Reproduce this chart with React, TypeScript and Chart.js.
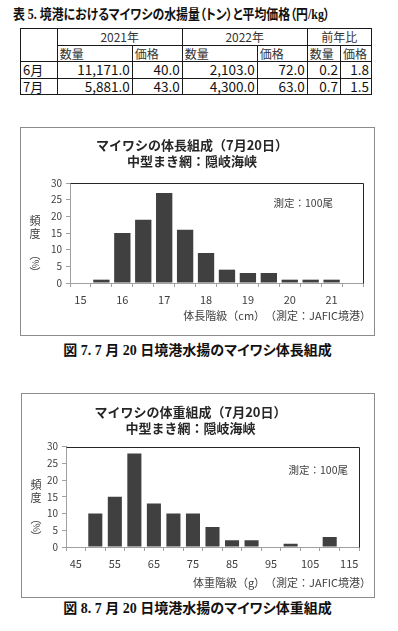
import React, { useEffect, useRef } from 'react';
import { Chart, registerables } from 'chart.js';

Chart.register(...registerables);

// ---------- data ----------
const tableTitle = '表 5. 境港におけるマイワシの水揚量（トン）と平均価格（円/kg）';
const tableYears = ['2021年', '2022年', '前年比'];
const tableSubHeads = ['数量', '価格'];
const tableMonths = ['6月', '7月'];
const qty2021 = [11171.0, 5881.0];
const price2021 = [40.0, 43.0];
const qty2022 = [2103.0, 4300.0];
const price2022 = [72.0, 63.0];
const ratioQty = [0.2, 0.7];
const ratioPrice = [1.8, 1.5];

const lengthClasses = ['15', '15.5', '16', '16.5', '17', '17.5', '18', '18.5', '19', '19.5', '20', '20.5', '21', '21.5'];
const lengthTickLabels = ['15', '', '16', '', '17', '', '18', '', '19', '', '20', '', '21', ''];
const lengthFreq = [0, 1, 15, 19, 27, 16, 9, 4, 3, 3, 1, 1, 1, 0];

const weightClasses = ['45', '50', '55', '60', '65', '70', '75', '80', '85', '90', '95', '100', '105', '110', '115'];
const weightTickLabels = ['45', '', '55', '', '65', '', '75', '', '85', '', '95', '', '105', '', '115'];
const weightFreq = [0, 10, 15, 28, 13, 10, 10, 6, 2, 2, 0, 1, 0, 3, 0];

const yMin = 0;
const yMax = 30;
const yStep = 5;

const lengthTitle = ['マイワシの体長組成（7月20日）', '中型まき網：隠岐海峡'];
const weightTitle = ['マイワシの体重組成（7月20日）', '中型まき網：隠岐海峡'];
const lengthXTitle = '体長階級（cm）　（測定：JAFIC境港）';
const weightXTitle = '体重階級（g）　（測定：JAFIC境港）';
const noteText = '測定：100尾';
const yTitleChars = ['頻', '度', '︵', '%', '︶'];
const caption7 = '図 7. 7 月 20 日境港水揚のマイワシ体長組成';
const caption8 = '図 8. 7 月 20 日境港水揚のマイワシ体重組成';

const CJK = '"Noto Sans CJK JP", "Noto Sans", sans-serif';
const CAPFONT = '"Liberation Serif", "Noto Sans CJK JP", serif';

// ---------- plugin for extra texts ----------
const figTextsPlugin = {
  id: 'figTexts',
  afterDraw(chart: any, _args: any, opts: any) {
    const { ctx, chartArea } = chart;
    const { left, right, top, bottom } = chartArea;
    ctx.save();
    // plot-area frame (top + right)
    ctx.strokeStyle = '#262626';
    ctx.lineWidth = 1;
    ctx.beginPath();
    ctx.moveTo(Math.round(left) + 0.5, Math.round(top) + 0.5);
    ctx.lineTo(Math.round(right) + 0.5, Math.round(top) + 0.5);
    ctx.lineTo(Math.round(right) + 0.5, Math.round(bottom) + 0.5);
    ctx.stroke();

    ctx.fillStyle = '#404040';
    ctx.textBaseline = 'middle';
    // note
    ctx.font = `10.5px ${CJK}`;
    ctx.textAlign = 'right';
    ctx.fillText(opts.note, right - opts.noteRight, top + opts.noteDy);
    // x title
    ctx.font = `11px ${CJK}`;
    ctx.textAlign = 'right';
    ctx.fillText(opts.xTitle, chart.width - opts.xTitleRight, chart.height - opts.xTitleBottom);
    // vertical y title
    ctx.textAlign = 'center';
    const offs = opts.yCharOffsets;
    opts.yChars.forEach((c: string, i: number) => {
      const y = top + offs[i];
      if (c === '%') {
        ctx.save();
        ctx.translate(opts.yTitleX, y);
        ctx.rotate(Math.PI / 2);
        ctx.font = `9px ${CJK}`;
        ctx.fillText(c, 0, 0);
        ctx.restore();
      } else {
        ctx.font = `11px ${CJK}`;
        ctx.fillText(c, opts.yTitleX, y);
      }
    });
    ctx.restore();
  },
};

interface HistProps {
  labels: string[];
  tickLabels: string[];
  data: number[];
  title: string[];
  xTitle: string;
  width: number;
  height: number;
  yAxisWidth: number;
  xAxisHeight: number;
  padRight: number;
  titlePadTop: number;
  titlePadBottom: number;
  barPct: number;
  noteRight: number;
  noteDy: number;
  xTitleBottom: number;
}

function HistChart(p: HistProps) {
  const ref = useRef<HTMLCanvasElement>(null);
  useEffect(() => {
    const axisColor = '#a0a0a0';
    const chart = new Chart(ref.current as HTMLCanvasElement, {
      type: 'bar',
      data: {
        labels: p.labels,
        datasets: [
          {
            data: p.data,
            backgroundColor: '#404040',
            borderWidth: 0,
            barPercentage: p.barPct,
            categoryPercentage: 1,
          },
        ],
      },
      options: {
        animation: false,
        responsive: false,
        maintainAspectRatio: false,
        devicePixelRatio: 1,
        events: [],
        layout: { padding: { left: 0, right: p.padRight, top: 0, bottom: 0 } },
        plugins: {
          legend: { display: false },
          tooltip: { enabled: false },
          title: {
            display: true,
            text: p.title,
            color: '#262626',
            font: { family: CJK, size: 13, weight: 'bold', lineHeight: 1.25 },
            padding: { top: p.titlePadTop, bottom: p.titlePadBottom },
          },
          figTexts: {
            note: noteText,
            noteRight: p.noteRight,
            noteDy: p.noteDy,
            xTitle: p.xTitle,
            xTitleRight: 3,
            xTitleBottom: p.xTitleBottom,
            yChars: yTitleChars,
            yCharOffsets: [38, 51, 72, 81, 90],
            yTitleX: 14,
          },
        } as any,
        scales: {
          x: {
            type: 'category',
            offset: true,
            grid: { offset: true, drawOnChartArea: false, drawTicks: true, tickLength: 4, color: axisColor },
            border: { display: true, color: axisColor },
            ticks: {
              autoSkip: false,
              maxRotation: 0,
              minRotation: 0,
              padding: 6,
              color: '#404040',
              font: { family: CJK, size: 11 },
              callback: (_v: any, i: number) => p.tickLabels[i],
            },
            afterFit: (s: any) => {
              s.height = p.xAxisHeight;
            },
          },
          y: {
            min: yMin,
            max: yMax,
            ticks: {
              stepSize: yStep,
              padding: 4,
              color: '#404040',
              font: { family: CJK, size: 10 },
            },
            grid: { drawOnChartArea: false, drawTicks: true, tickLength: 4, color: axisColor },
            border: { display: true, color: axisColor },
            afterFit: (s: any) => {
              s.width = p.yAxisWidth;
            },
          },
        },
      },
      plugins: [figTextsPlugin],
    });
    return () => chart.destroy();
  }, []);
  return <canvas ref={ref} width={p.width} height={p.height} style={{ display: 'block', width: p.width, height: p.height }} />;
}

const fmt1 = (v: number) => v.toLocaleString('en-US', { minimumFractionDigits: 1, maximumFractionDigits: 1 });

const cellBase: React.CSSProperties = {
  border: '1px solid #1a1a1a',
  padding: '0 2px',
  height: 15.6,
  lineHeight: '15px',
  whiteSpace: 'nowrap',
  overflow: 'hidden',
};

function DataTable() {
  const head: React.CSSProperties = { ...cellBase, fontSize: 12, color: '#333', textAlign: 'center' };
  const sub: React.CSSProperties = { ...cellBase, fontSize: 12, color: '#333', textAlign: 'left' };
  const num: React.CSSProperties = { ...cellBase, fontSize: 13.5, color: '#111', textAlign: 'right' };
  const mon: React.CSSProperties = { ...cellBase, fontSize: 13, color: '#111', textAlign: 'left' };
  return (
    <table
      style={{
        position: 'absolute',
        left: 20,
        top: 28,
        width: 351,
        borderCollapse: 'collapse',
        tableLayout: 'fixed',
        fontFamily: CJK,
      }}
    >
      <colgroup>
        <col style={{ width: 36.7 }} />
        <col style={{ width: 75 }} />
        <col style={{ width: 50 }} />
        <col style={{ width: 75 }} />
        <col style={{ width: 50 }} />
        <col style={{ width: 33.3 }} />
        <col style={{ width: 31 }} />
      </colgroup>
      <tbody>
        <tr>
          <td style={cellBase} rowSpan={2}></td>
          {tableYears.map((y) => (
            <td key={y} style={head} colSpan={2}>
              {y}
            </td>
          ))}
        </tr>
        <tr>
          {tableYears.map((y) =>
            tableSubHeads.map((s) => (
              <td key={y + s} style={sub}>
                {s}
              </td>
            ))
          )}
        </tr>
        {tableMonths.map((m, i) => (
          <tr key={m}>
            <td style={mon}>{m}</td>
            <td style={num}>{fmt1(qty2021[i])}</td>
            <td style={num}>{fmt1(price2021[i])}</td>
            <td style={num}>{fmt1(qty2022[i])}</td>
            <td style={num}>{fmt1(price2022[i])}</td>
            <td style={num}>{fmt1(ratioQty[i])}</td>
            <td style={num}>{fmt1(ratioPrice[i])}</td>
          </tr>
        ))}
      </tbody>
    </table>
  );
}

export default function App() {
  const frame = (top: number, left: number, w: number, h: number): React.CSSProperties => ({
    position: 'absolute',
    left,
    top,
    width: w,
    height: h,
    border: '1px solid #8c8c8c',
    boxSizing: 'border-box',
    background: '#fff',
  });
  const capStyle = (top: number): React.CSSProperties => ({
    position: 'absolute',
    left: 20,
    width: 355,
    top,
    textAlign: 'center',
    fontFamily: CAPFONT,
    fontWeight: 'bold',
    fontSize: 14,
    lineHeight: '18px',
    fontFeatureSettings: '"palt"',
    color: '#111',
    whiteSpace: 'nowrap',
  });
  return (
    <div style={{ position: 'absolute', left: 0, top: 0, width: 398, height: 631, background: '#fff', overflow: 'hidden' }}>
      <div
        style={{
          position: 'absolute',
          left: 13,
          top: 6,
          fontFamily: CAPFONT,
          fontWeight: 'bold',
          fontSize: 14,
          lineHeight: '18px',
          fontFeatureSettings: '"palt"',
          color: '#111',
          whiteSpace: 'nowrap',
          transform: 'scaleX(0.85)',
          transformOrigin: '0 0',
        }}
      >
        {tableTitle}
      </div>
      <DataTable />

      <div style={frame(127, 20, 355, 209)}>
        <HistChart
          labels={lengthClasses}
          tickLabels={lengthTickLabels}
          data={lengthFreq}
          title={lengthTitle}
          xTitle={lengthXTitle}
          width={353}
          height={207}
          yAxisWidth={49}
          xAxisHeight={52}
          padRight={11}
          titlePadTop={8.5}
          titlePadBottom={14}
          barPct={0.78}
          noteRight={30}
          noteDy={20}
          xTitleBottom={19}
        />
      </div>
      <div style={capStyle(342)}>{caption7}</div>

      <div style={frame(393, 21, 354, 205)}>
        <HistChart
          labels={weightClasses}
          tickLabels={weightTickLabels}
          data={weightFreq}
          title={weightTitle}
          xTitle={weightXTitle}
          width={352}
          height={203}
          yAxisWidth={44}
          xAxisHeight={50}
          padRight={15}
          titlePadTop={9.5}
          titlePadBottom={10.7}
          barPct={0.72}
          noteRight={11}
          noteDy={23}
          xTitleBottom={14}
        />
      </div>
      <div style={capStyle(600)}>{caption8}</div>
    </div>
  );
}
